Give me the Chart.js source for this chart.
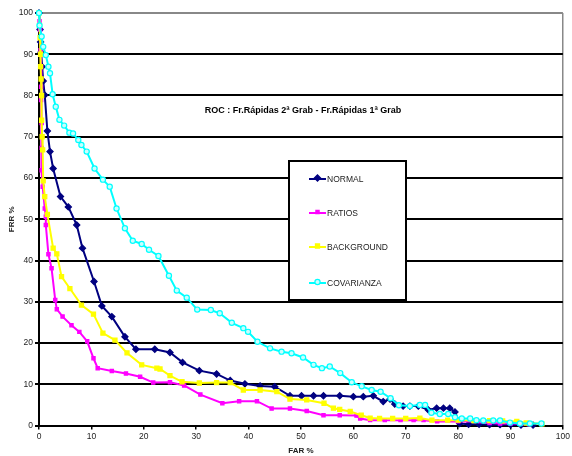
<!DOCTYPE html>
<html><head><meta charset="utf-8">
<script src="https://cdn.jsdelivr.net/npm/chart.js@4.4.1/dist/chart.umd.min.js"></script>
<style>html,body{margin:0;padding:0;background:#fff;}#wrap{width:572px;height:456px;position:relative;}</style>
</head><body><div id="wrap"><canvas id="c" width="572" height="456"></canvas></div>
<script>
const chartTitle = 'ROC : Fr.Rápidas 2ª Grab - Fr.Rápidas 1ª Grab';
const xTickValues = [0,10,20,30,40,50,60,70,80,90,100];
const yTickValues = [0,10,20,30,40,50,60,70,80,90,100];
const seriesNames = ['NORMAL','RATIOS','BACKGROUND','COVARIANZA'];

const normalX = [0,0.2,0.3,0.4,0.6,0.8,1.1,1.6,2.1,2.7,4.1,5.6,7.2,8.3,10.5,12,13.9,16.4,18.5,22.1,25,27.4,30.6,33.9,36.5,39.3,42.2,45,47.9,50.1,52.4,54.3,57.4,60,61.9,63.8,65.7,67,67.9,69.5,70.8,72.4,74.3,75.9,77.2,78.4,79.4,80.3,82,84,86,88,90,92,94.3];
const normalY = [100,96,93,90.5,87,83.5,80.1,71.4,66.4,62.3,55.5,53,48.6,43,34.9,29,26.4,21.5,18.5,18.5,17.7,15.3,13.3,12.5,10.9,10.1,9.6,9.4,7.2,7.2,7.2,7.2,7.2,7,7,7.2,5.8,6.4,5.2,4.7,4.7,4.7,3.8,4.2,4.2,4.2,3.3,0.5,0.3,0.3,0.2,0.2,0.2,0.1,0.1];

const ratiosX = [0,0.1,0.2,0.3,0.3,0.4,0.4,0.4,0.5,0.5,0.5,0.7,1.1,1.3,1.3,1.8,2.4,3.1,3.4,4.5,6.2,7.7,9.2,10.4,11.2,13.9,16.6,19.3,21.8,25,27.7,30.8,35,38.2,41.6,44.4,47.9,51.1,54.3,57.4,60.6,61.3,63.2,66,69,71.5,73.4,76,80,84.2,86,88,90,92,93.5];
const ratiosY = [100,98,96,94,91,87,82.1,78.9,73.3,67.3,61.9,57.9,52.6,50.6,48.6,41.5,38.1,30.4,28.2,26.4,24.3,22.7,20.4,16.3,13.9,13.2,12.6,11.8,10.4,10.5,9.7,7.5,5.4,5.9,5.9,4.1,4.1,3.5,2.5,2.5,2.4,1.7,1.3,1.3,1.3,1.3,1.3,1,1,1,0.6,0.5,0.5,0.4,0.3];

const backgroundX = [0,0.1,0.2,0.3,0.3,0.4,0.5,0.5,0.6,0.7,0.8,1.1,1.6,2.7,3.4,4.3,5.9,8.1,10.4,12.2,14.5,16.8,19.6,22.5,23.1,25,27.3,30.6,33.9,36.5,39,42.2,45.4,47.9,51.1,54.4,56.2,57.4,59.4,61.5,63.2,65,67.5,70,72.7,75,78,80,83,86,88.5,91.2,93,96];
const backgroundY = [100,97,94,90,87,84,80,74,70,66.8,59.3,55.5,51.2,43,41.6,36.1,33.2,29.2,27,22.4,20.7,17.6,14.7,13.9,13.7,12.1,10.6,10.3,10.4,10.4,8.6,8.6,8.2,6.4,6.2,5.4,4.2,3.9,3.4,2.5,1.8,1.7,1.7,1.7,1.8,1.3,1.3,1.3,1.2,1.2,1.1,1,0.6,0.4];

const covX = [0,0.1,0.5,0.8,1.3,1.8,2.1,2.6,3.2,3.9,4.8,5.8,6.5,7.5,8.1,9.1,10.6,12.2,13.5,14.8,16.4,17.9,19.6,21,22.8,24.8,26.3,28.2,30.2,32.8,34.5,36.8,39,39.9,41.7,44.1,46.3,48.2,50.4,52.4,54,55.5,57.5,59.7,61.6,63.5,65.2,67.1,68.7,70.8,72.7,73.7,74.9,76.5,78.1,79.4,80.7,82.3,83.5,84.8,86.7,88,89.9,91.8,93.7,95.9];
const covY = [100,97,94.3,91.8,89.8,87,85.4,80.3,77.3,74.1,72.7,71,70.8,69.2,68,66.4,62.3,59.6,57.9,52.6,47.8,44.8,44,42.6,41.1,36.3,32.7,31,28.1,28,27.2,24.9,23.6,22.7,20.3,18.7,17.9,17.5,16.5,14.7,13.9,14.3,12.7,10.5,9.5,8.6,8.2,6.6,4.9,4.7,5,5,3.1,2.8,2.8,2,1.7,1.7,1.3,1.2,1.2,1.2,0.7,0.5,0.5,0.5];

const pts = (xs, ys) => xs.map((x, i) => ({x: x, y: ys[i]}));
const FONT = '"Liberation Sans", Arial, sans-serif';

const styles = [
  {color:'#000080', bg:'#000080', ps:'rectRot', r:3.1, order:4},
  {color:'#ff00ff', bg:'#ff00ff', ps:'rect', r:2.3, order:3},
  {color:'#ffff00', bg:'#ffff00', ps:'rect', r:2.9, order:2},
  {color:'#00ffff', bg:'#c8ffff', ps:'circle', r:2.6, order:1}
];
const dataSets = [pts(normalX,normalY), pts(ratiosX,ratiosY), pts(backgroundX,backgroundY), pts(covX,covY)];

const datasets = dataSets.map((d, i) => ({
  label: seriesNames[i], data: d, showLine: true, tension: 0,
  borderColor: styles[i].color, borderWidth: 2,
  pointStyle: styles[i].ps, pointRadius: styles[i].r,
  pointBackgroundColor: styles[i].bg, pointBorderColor: styles[i].color, pointBorderWidth: 1.2,
  order: styles[i].order, clip: false
}));

const overlay = {
  id: 'overlay',
  afterDraw(chart) {
    const ctx = chart.ctx;
    ctx.save();
    ctx.fillStyle = '#000';
    ctx.font = 'bold 9px ' + FONT;
    ctx.textAlign = 'center'; ctx.textBaseline = 'middle';
    ctx.fillText(chartTitle, 303, 111);
    const bx = 289, by = 161, bw = 117, bh = 139;
    ctx.fillStyle = '#fff';
    ctx.fillRect(bx, by, bw, bh);
    ctx.strokeStyle = '#000'; ctx.lineWidth = 2;
    ctx.strokeRect(bx, by, bw, bh);
    const rows = [179, 213, 247, 283];
    chart.data.datasets.forEach((ds, i) => {
      const y = rows[i];
      ctx.strokeStyle = ds.borderColor; ctx.lineWidth = 2;
      ctx.beginPath(); ctx.moveTo(309, y); ctx.lineTo(326, y); ctx.stroke();
      ctx.fillStyle = ds.pointBackgroundColor; ctx.strokeStyle = ds.pointBorderColor; ctx.lineWidth = 1.2;
      Chart.helpers.drawPoint(ctx, {pointStyle: ds.pointStyle, radius: ds.pointRadius, rotation: 0, borderWidth: 1.2}, 317.5, y - 1);
      ctx.fillStyle = '#222';
      ctx.font = '8.5px ' + FONT;
      ctx.textAlign = 'left'; ctx.textBaseline = 'middle';
      ctx.fillText(ds.label, 327, y + 0.5);
    });
    ctx.restore();
  }
};

new Chart(document.getElementById('c'), {
  type: 'scatter',
  data: {datasets},
  options: {
    responsive: false, animation: false, devicePixelRatio: 1,
    layout: {padding: {top: 13, right: 8, left: 0, bottom: 0}},
    plugins: {legend: {display: false}, tooltip: {enabled: false}},
    scales: {
      x: {
        type: 'linear', min: 0, max: 100,
        afterBuildTicks: s => { s.ticks = xTickValues.map(v => ({value: v})); },
        afterFit: s => { s.height = 30.5; },
        grid: {color: c => (c.tick && c.tick.value === 100) ? '#888' : 'rgba(0,0,0,0)', tickColor: '#000', lineWidth: 1.5, tickLength: 4, drawTicks: true},
        border: {color: '#000', width: 2},
        ticks: {color: '#222', font: {family: FONT, size: 8.5}, padding: 2, maxRotation: 0, autoSkip: false},
        title: {display: true, text: 'FAR %', color: '#222', font: {family: FONT, size: 8, weight: 'bold'}, padding: {top: 0, bottom: 0}}
      },
      y: {
        type: 'linear', min: 0, max: 100,
        afterBuildTicks: s => { s.ticks = yTickValues.map(v => ({value: v})); },
        afterFit: s => { s.width = 39; },
        grid: {color: c => (c.tick && c.tick.value === 100) ? '#888' : '#000', tickColor: '#000', lineWidth: 2, tickLength: 4, drawTicks: true},
        border: {color: '#000', width: 2},
        ticks: {color: '#222', font: {family: FONT, size: 8.5}, padding: 2, autoSkip: false},
        title: {display: true, text: 'FRR %', color: '#222', font: {family: FONT, size: 8, weight: 'bold'}, padding: {top: 7, bottom: 0}}
      }
    }
  },
  plugins: [overlay]
});
</script></body></html>
